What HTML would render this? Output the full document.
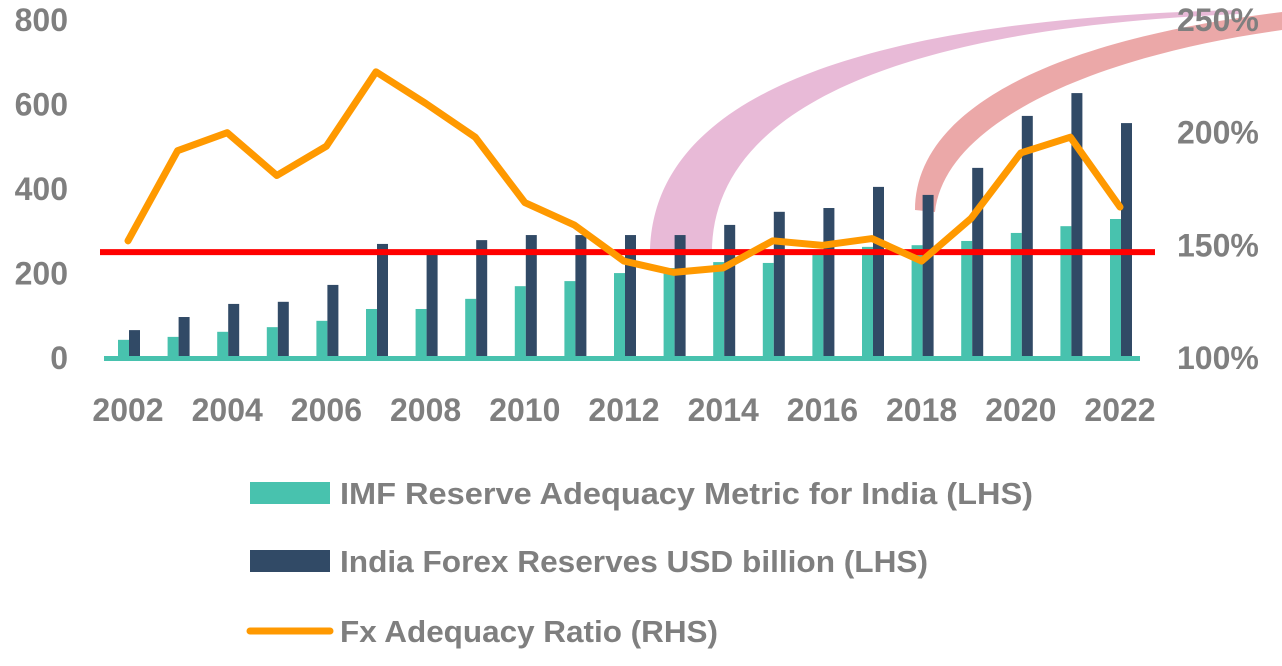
<!DOCTYPE html>
<html><head><meta charset="utf-8"><style>
body{margin:0;background:#fff;width:1282px;height:661px;overflow:hidden}
svg text{font-family:"Liberation Sans",sans-serif;font-weight:bold;fill:#7f7f7f}
</style></head><body>
<svg id="chart" width="1282" height="661" viewBox="0 0 1282 661"></svg>
<script>
const years=[2002,2003,2004,2005,2006,2007,2008,2009,2010,2011,2012,2013,2014,2015,2016,2017,2018,2019,2020,2021,2022];
const imfMetric=[43,50,62,73,88,116,116,140,170,182,201,213,227,225,244,263,267,277,296,312,329];
const reserves=[66,97,128,133,173,270,251,279,291,291,291,291,315,346,355,405,386,450,573,627,556];
const ratio=[152,192,200,181,194,227,213,198,169,159,143,138,140,152,150,153,143,162,191,198,167];
const leftTicks=[0,200,400,600,800];
const rightTicks=[100,150,200,250];
const thresholdPct=147;
const NS="http://www.w3.org/2000/svg";
const svg=document.getElementById('chart');
function el(t,a,p){const e=document.createElementNS(NS,t);for(const k in a)e.setAttribute(k,a[k]);(p||svg).appendChild(e);return e;}
const x=i=>128+i*49.6;
const yL=v=>358-v*(338/800);
const yR=p=>358-(p-100)*(338/150);
let a1=el('path',{d:'M650,255 C650,120 800,20 1240,10 L1240,14 C850,30 710,130 712,255 Z',fill:'#d98cbd',opacity:'0.6'});


let a2=el('path',{d:'M915,210 C915,110 1050,40 1282,12 L1282,30 C1100,55 945,120 935,212 Z',fill:'#e07a7a',opacity:'0.65'});


years.forEach((yr,i)=>{
 let b=el('rect',{x:x(i)-10,y:yL(imfMetric[i]),width:11,height:358-yL(imfMetric[i]),fill:'#48c2ae'});
 
 
 let c=el('rect',{x:x(i)+1,y:yL(reserves[i]),width:11,height:358-yL(reserves[i]),fill:'#314a66'});
 
 
});
let base=el('rect',{x:104,y:356,width:1036,height:5,fill:'#48c2ae'});


let th=el('line',{x1:100,x2:1155,y1:yR(thresholdPct),y2:yR(thresholdPct),stroke:'#ff0000','stroke-width':6});


let ln=el('polyline',{points:ratio.map((p,i)=>x(i)+','+yR(p)).join(' '),fill:'none',stroke:'#ff9900','stroke-width':7,'stroke-linejoin':'round','stroke-linecap':'round'});


leftTicks.forEach(v=>{let t=el('text',{x:68,y:yL(v)+11,'font-size':32,'text-anchor':'end'});t.textContent=v;
 
 });
rightTicks.forEach(v=>{let t=el('text',{x:1177,y:yR(v)+11,'font-size':32});t.textContent=v+'%';
 
 });
years.forEach((yr,i)=>{if(i%2)return;let t=el('text',{x:x(i),y:421,'font-size':32,'text-anchor':'middle'});t.textContent=yr;
 
 });
const leg=[['IMF Reserve Adequacy Metric for India (LHS)','#48c2ae','rect',493,693],['India Forex Reserves USD billion (LHS)','#314a66','rect',561,588],['Fx Adequacy Ratio (RHS)','#ff9900','line',631,378]];
leg.forEach((l,i)=>{
 let g=el('g',{});
 
 
 if(l[2]=='rect')el('rect',{x:250,y:l[3]-11,width:80,height:22,fill:l[1]},g);
 else el('line',{x1:250,x2:330,y1:l[3],y2:l[3],stroke:l[1],'stroke-width':7,'stroke-linecap':'round'},g);
 let t=el('text',{x:340,y:l[3]+11,'font-size':31,textLength:l[4],lengthAdjust:'spacingAndGlyphs'},g);t.textContent=l[0];
});
</script>
</body></html>
